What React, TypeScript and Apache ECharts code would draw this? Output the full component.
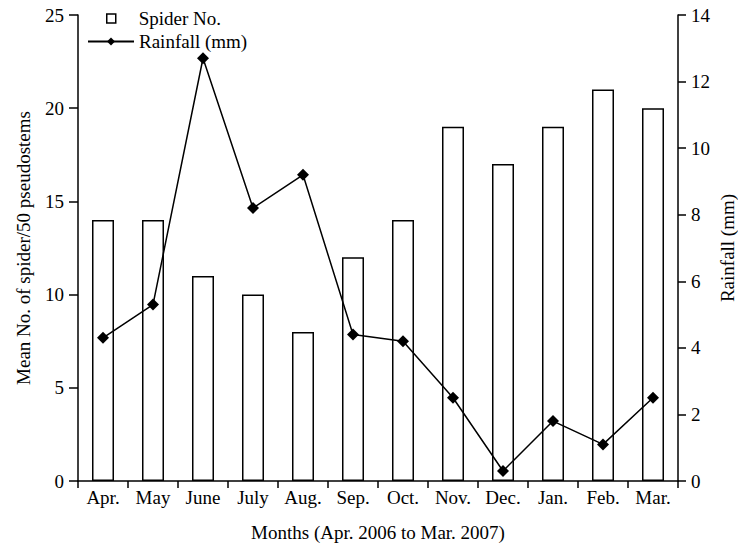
import React, { useEffect, useRef } from "react";
import * as echarts from "echarts";

const months = ["Apr.", "May", "June", "July", "Aug.", "Sep.", "Oct.", "Nov.", "Dec.", "Jan.", "Feb.", "Mar."];
const spiderNo = [14, 14, 11, 10, 8, 12, 14, 19, 17, 19, 21, 20];
const rainfall = [4.3, 5.3, 12.7, 8.2, 9.2, 4.4, 4.2, 2.5, 0.3, 1.8, 1.1, 2.5];
const rightTitle = "Rainfall (mm)";

const FONT = "'Liberation Serif', 'DejaVu Serif', serif";

export default function App() {
  const ref = useRef<HTMLDivElement>(null);
  useEffect(() => {
    if (!ref.current) return;
    const chart = echarts.init(ref.current, undefined, { renderer: "svg" });
    const axisText = { fontFamily: FONT, fontSize: 19, color: "#000" };
    chart.setOption({
      animation: false,
      backgroundColor: "#fff",
      grid: { left: 78, right: 60, top: 15, bottom: 69, containLabel: false, outerBoundsMode: "none" },
      legend: [
        {
          data: [{ name: "Spider No.", icon: "rect" }],
          left: 106,
          top: 9,
          padding: 0,
          itemWidth: 9,
          itemHeight: 9,
          itemGap: 0,
          itemStyle: { color: "#fff", borderColor: "#000", borderWidth: 1.5 },
          textStyle: { fontFamily: FONT, fontSize: 19, color: "#000", padding: [0, 0, 0, 18] },
        },
        {
          data: ["Rainfall (mm)"],
          left: 87,
          top: 32,
          padding: 0,
          itemWidth: 46,
          itemHeight: 10,
          textStyle: { fontFamily: FONT, fontSize: 19, color: "#000" },
        },
      ],
      graphic: [
        {
          type: "text",
          x: 727,
          y: 248,
          rotation: Math.PI / 2,
          style: {
            text: rightTitle,
            fontFamily: FONT,
            fontSize: 19,
            fill: "#000",
            align: "center",
            verticalAlign: "middle",
          },
        },
      ],
      xAxis: {
        type: "category",
        data: months,
        boundaryGap: true,
        name: "Months (Apr. 2006 to Mar. 2007)",
        nameLocation: "middle",
        nameGap: 42,
        nameTextStyle: axisText,
        axisLine: { lineStyle: { color: "#000", width: 1.5 } },
        axisTick: { show: true, alignWithLabel: false, length: 7, lineStyle: { color: "#000", width: 1.5 } },
        axisLabel: { ...axisText, margin: 7, interval: 0 },
      },
      yAxis: [
        {
          type: "value",
          min: 0,
          max: 25,
          interval: 5,
          position: "left",
          name: "Mean No. of spider/50 pseudostems",
          nameLocation: "middle",
          nameGap: 45,
          nameTextStyle: axisText,
          axisLine: { show: true, lineStyle: { color: "#000", width: 1.5 } },
          axisTick: { show: true, length: 9, lineStyle: { color: "#000", width: 1.5 } },
          axisLabel: { ...axisText, margin: 14 },
          splitLine: { show: false },
        },
        {
          type: "value",
          min: 0,
          max: 14,
          interval: 2,
          position: "right",
          axisLine: { show: true, lineStyle: { color: "#000", width: 1.5 } },
          axisTick: { show: true, length: 8, lineStyle: { color: "#000", width: 1.5 } },
          axisLabel: { ...axisText, margin: 13 },
          splitLine: { show: false },
        },
      ],
      series: [
        {
          name: "Spider No.",
          type: "bar",
          yAxisIndex: 0,
          data: spiderNo,
          barWidth: 22,
          itemStyle: { color: "#fff", borderColor: "#000", borderWidth: 1.5 },
        },
        {
          name: "Rainfall (mm)",
          type: "line",
          yAxisIndex: 1,
          data: rainfall,
          symbol: "diamond",
          symbolSize: 12,
          lineStyle: { color: "#000", width: 1.5 },
          itemStyle: { color: "#000" },
        },
      ],
    });
    return () => chart.dispose();
  }, []);
  return <div ref={ref} style={{ width: 738, height: 550, position: "absolute", left: 0, top: 0 }} />;
}
